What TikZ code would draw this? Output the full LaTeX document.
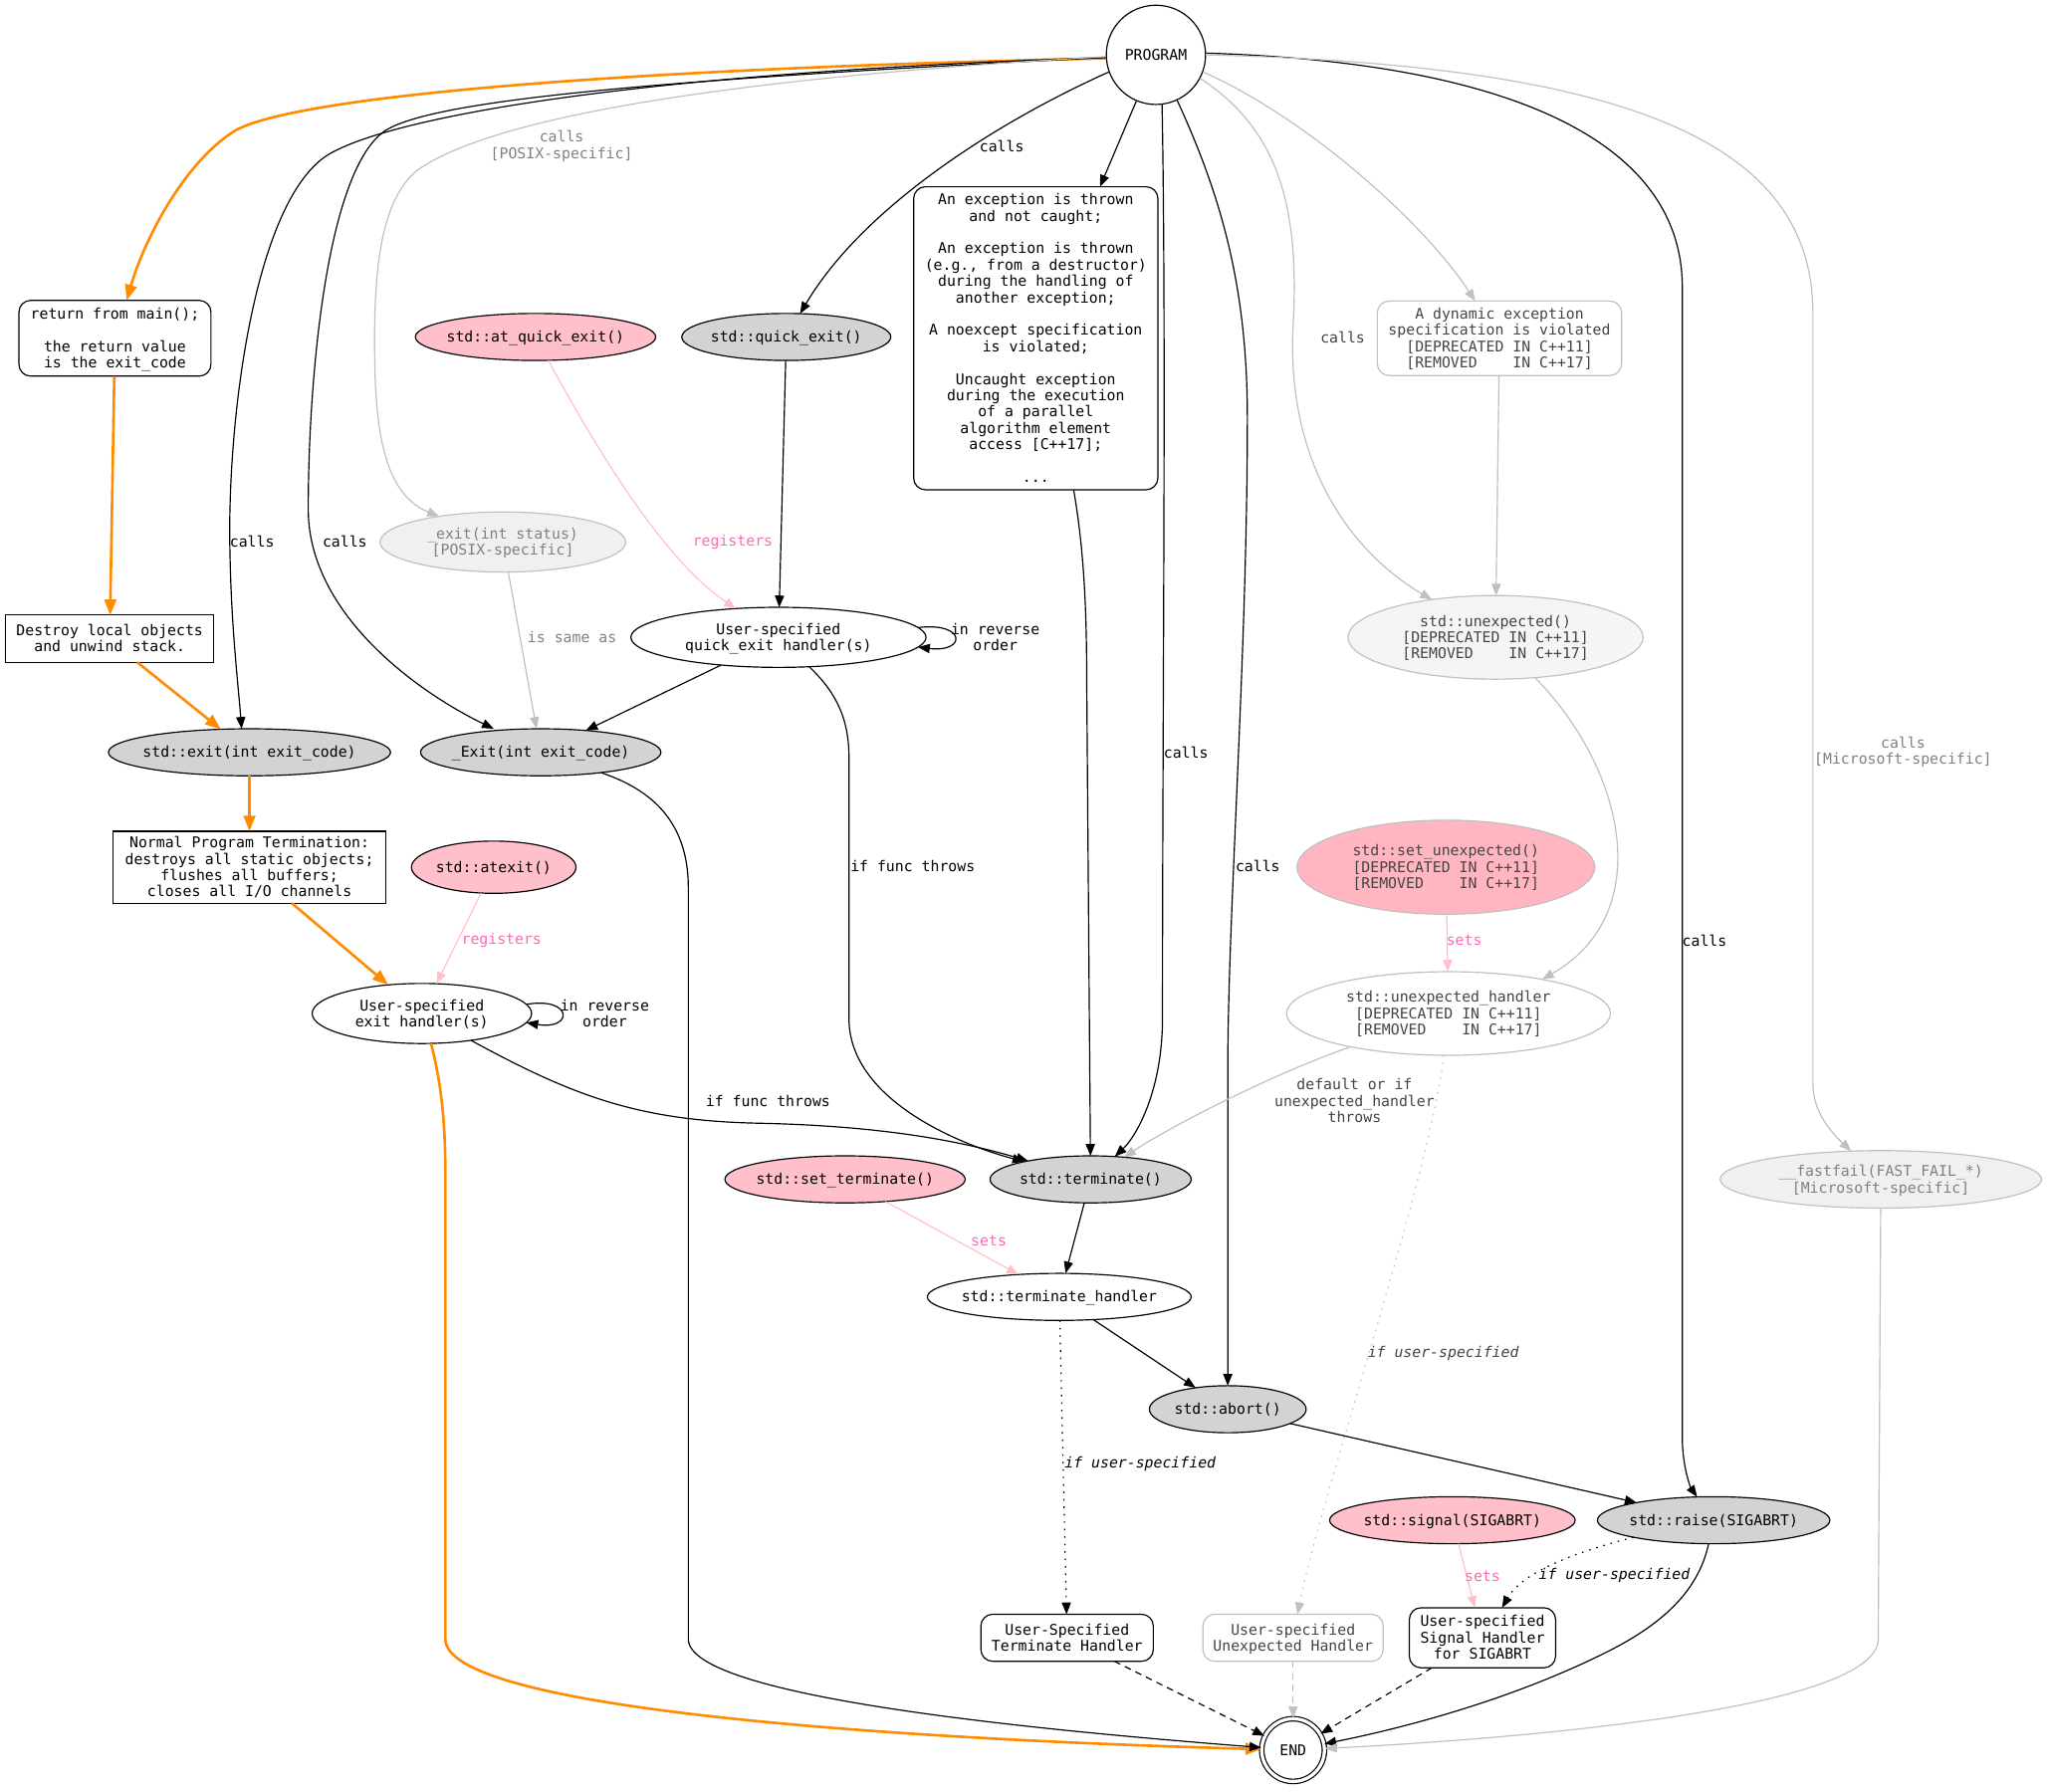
\documentclass[tikz,border=0pt]{standalone}
\usepackage{fontspec}
\newfontfamily\dvs{DejaVu Sans Mono}
\usetikzlibrary{shapes.geometric,arrows.meta,calc}
\definecolor{pinkf}{HTML}{FFC0CB}
\definecolor{lpink}{HTML}{FFB6C1}
\definecolor{grayf}{HTML}{D3D3D3}
\definecolor{silv}{HTML}{C0C0C0}
\definecolor{hpink}{HTML}{FF69B4}
\definecolor{dorange}{HTML}{FF8C00}
\definecolor{dtext}{HTML}{444444}
\definecolor{mtext}{HTML}{808080}
\definecolor{lfill}{HTML}{F0F0F0}
\definecolor{wsmoke}{HTML}{F5F5F5}
\newcommand{\zb}[1]{\makebox[0pt]{\raisebox{-1.5pt}[\height][\depth]{\begin{tabular}{@{}c@{}}#1\end{tabular}}}}
\begin{document}
\begin{tikzpicture}[x=1pt,y=-1pt,font={\dvs\fontsize{11.3}{12.5}\selectfont},
  ell/.style={ellipse, draw, line width=0.9pt, inner sep=0pt, outer sep=0pt},
  box/.style={rectangle, draw, line width=0.9pt, inner sep=0pt, outer sep=0pt},
  rbox/.style={box, rounded corners=9pt},
  pinkn/.style={ell, fill=pinkf},
  grayn/.style={ell, fill=grayf},
  ghost/.style={draw=silv, text=dtext},
  e/.style={line width=0.9pt, -{Triangle[length=9pt,width=7pt]}},
  eo/.style={line width=2pt, draw=dorange, -{Triangle[length=12pt,width=9pt]}},
  eg/.style={e, draw=silv},
  ep/.style={e, draw=pinkf},
  dsh/.style={dash pattern=on 5pt off 4pt},
  dtt/.style={dash pattern=on 1.2pt off 4.5pt},
  lab/.style={inner sep=0pt},
  plab/.style={lab, text=hpink},
  glab/.style={lab, text=mtext},
  dlab/.style={lab, text=dtext}]
\fill[white] (0,0) rectangle (1568,1372);
\useasboundingbox (0,0) rectangle (1568,1372);

% nodes
\node[circle, draw, line width=0.9pt, minimum size=76pt, inner sep=0pt] (prog) at (885,42) {\zb{PROGRAM}};
\node[rbox, minimum width=147pt, minimum height=58pt] (ret) at (88,259) {\zb{return from main();\\ \\ the return value\\ is the exit\_code}};
\node[pinkn, minimum width=184pt, minimum height=36pt] (aqe) at (410,258) {\zb{std::at\_quick\_exit()}};
\node[grayn, minimum width=160pt, minimum height=36pt] (qexit) at (602,258) {\zb{std::quick\_exit()}};
\node[rbox, minimum width=187pt, minimum height=232pt] (exc) at (793,259) {\zb{An exception is thrown\\ and not caught;\\ \\ An exception is thrown\\ (e.g., from a destructor)\\ during the handling of\\ another exception;\\ \\ A noexcept specification\\ is violated;\\ \\ Uncaught exception\\ during the execution\\ of a parallel\\ algorithm element\\ access {[}C++17];\\ \\ ...}};
\node[rbox, ghost, minimum width=187pt, minimum height=57pt] (dyn) at (1148,259) {\zb{A dynamic exception\\ specification is violated\\ {[}DEPRECATED IN C++11]\\ {[}REMOVED\ \ \ \ IN C++17]}};
\node[ell, draw=silv, fill=lfill, text=mtext, minimum width=188pt, minimum height=46pt] (xexitp) at (385,415) {\zb{\_exit(int status)\\ {[}POSIX-specific]}};
\node[ell, minimum width=226pt, minimum height=46pt] (hquick) at (596,488) {\zb{User-specified\\ quick\_exit handler(s)}};
\node[box, minimum width=159pt, minimum height=36pt] (destroy) at (84,489) {\zb{Destroy local objects\\ and unwind stack.}};
\node[ell, draw=silv, fill=wsmoke, text=dtext, minimum width=226pt, minimum height=64pt] (unexp) at (1145,488) {\zb{std::unexpected()\\ {[}DEPRECATED IN C++11]\\ {[}REMOVED\ \ \ \ IN C++17]}};
\node[grayn, minimum width=216pt, minimum height=36pt] (sexit) at (191,576) {\zb{std::exit(int exit\_code)}};
\node[grayn, minimum width=184pt, minimum height=36pt] (xexit) at (414,576) {\zb{\_Exit(int exit\_code)}};
\node[box, minimum width=209pt, minimum height=55pt] (normal) at (191,664) {\zb{Normal Program Termination:\\ destroys all static objects;\\ flushes all buffers;\\ closes all I/O channels}};
\node[pinkn, minimum width=126pt, minimum height=40pt] (atexit) at (378,664) {\zb{std::atexit()}};
\node[ell, draw=silv, fill=lpink, text=dtext, minimum width=228pt, minimum height=72pt] (setunexp) at (1107,664) {\zb{std::set\_unexpected()\\ {[}DEPRECATED IN C++11]\\ {[}REMOVED\ \ \ \ IN C++17]}};
\node[ell, minimum width=168pt, minimum height=46pt] (hexit) at (323,776) {\zb{User-specified\\ exit handler(s)}};
\node[ell, draw=silv, text=dtext, minimum width=248pt, minimum height=64pt] (uhandler) at (1109,776) {\zb{std::unexpected\_handler\\ {[}DEPRECATED IN C++11]\\ {[}REMOVED\ \ \ \ IN C++17]}};
\node[pinkn, minimum width=184pt, minimum height=36pt] (setterm) at (647,903) {\zb{std::set\_terminate()}};
\node[grayn, minimum width=154pt, minimum height=36pt] (term) at (835,903) {\zb{std::terminate()}};
\node[ell, draw=silv, fill=lfill, text=mtext, minimum width=246pt, minimum height=44pt] (ffail) at (1440,903) {\zb{\_\_fastfail(FAST\_FAIL\_*)\\ {[}Microsoft-specific]}};
\node[ell, minimum width=202pt, minimum height=36pt] (thandler) at (811,993) {\zb{std::terminate\_handler}};
\node[grayn, minimum width=120pt, minimum height=36pt] (abort) at (940,1079) {\zb{std::abort()}};
\node[pinkn, minimum width=188pt, minimum height=36pt] (signal) at (1112,1164) {\zb{std::signal(SIGABRT)}};
\node[grayn, minimum width=178pt, minimum height=36pt] (raise) at (1312,1164) {\zb{std::raise(SIGABRT)}};
\node[rbox, minimum width=132pt, minimum height=36pt] (uth) at (817,1254) {\zb{User-Specified\\ Terminate Handler}};
\node[rbox, ghost, minimum width=138pt, minimum height=36pt] (uuh) at (990,1254) {\zb{User-specified\\ Unexpected Handler}};
\node[rbox, minimum width=112pt, minimum height=46pt] (ush) at (1135,1254) {\zb{User-specified\\ Signal Handler\\ for SIGABRT}};
\node[circle, draw, double, double distance=2.5pt, line width=0.9pt, minimum size=48pt, inner sep=0pt] (end) at (990,1340) {\zb{END}};

% orange path
\draw[eo] (prog.184) .. controls (500,52) and (230,72) .. (180,100) .. controls (140,125) and (110,185) .. ($(ret.north)+(9,0)$);
\draw[eo] (ret) -- (destroy);
\draw[eo] ($(destroy.south)+(21,0)$) -- (sexit);
\draw[eo] (sexit) -- (normal);
\draw[eo] (normal) -- (hexit);
\draw[eo] ($(hexit.south)+(7,0)$) .. controls (338,830) and (341,860) .. (341,900) -- (341,1255) .. controls (341,1310) and (700,1332) .. (end);

% from PROGRAM, left side
\draw[e] (prog.183) .. controls (480,56) and (300,90) .. (252,118) .. controls (195,152) and (174,320) .. (176,420) .. controls (177,480) and (182,520) .. ($(sexit.north)+(-6,0)$);
\node[lab] (c1) at (193,415) {calls};
\draw[e] (prog.183) .. controls (480,62) and (330,78) .. (295,100) .. controls (250,130) and (236,290) .. (236,390) .. controls (236,470) and (320,530) .. ($(xexit.north)+(-36,0)$);
\node[lab] (c2) at (264,415) {calls};
\draw[eg] (prog.182) .. controls (520,62) and (370,95) .. (320,130) .. controls (288,155) and (286,220) .. (287,280) .. controls (288,340) and (298,380) .. (xexitp);
\node[glab] (c3) at (430,111) {\zb{calls\\ {[}POSIX-specific]}};
\draw[e] (prog.200) .. controls (760,95) and (660,160) .. (qexit);
\node[lab] (c4) at (767,112) {calls};
\draw[e] (prog) -- (exc);
\draw[e] (prog.-83) .. controls (893,250) and (890,550) .. (890,780) .. controls (890,835) and (870,870) .. (term);
\node[lab] (c5) at (908,576) {calls};
\draw[e] (prog.-65) .. controls (935,150) and (955,220) .. (955,320) .. controls (955,500) and (940,700) .. (940,820) -- (abort);
\node[lab] (c6) at (963,663) {calls};
\draw[eg] (prog.-20) .. controls (1000,90) and (1090,170) .. (dyn);
\draw[eg] (prog.-28) .. controls (980,100) and (995,160) .. (990,250) .. controls (985,350) and (1030,420) .. (unexp);
\node[dlab] (c7) at (1028,258) {calls};
\draw[e] (prog.2) .. controls (1160,48) and (1288,110) .. (1288,220) -- (1288,1100) .. controls (1288,1125) and (1295,1140) .. (raise);
\node[lab] (c8) at (1305,720) {calls};
\draw[eg] (prog.0) .. controls (1250,50) and (1388,110) .. (1388,240) -- (1388,830) .. controls (1388,850) and (1400,865) .. (ffail);
\node[glab] (c9) at (1457,575) {\zb{calls\\ {[}Microsoft-specific]}};

% middle
\draw[e] ($(exc.south)+(29,0)$) .. controls (828,410) and (832,450) .. (832,520) -- (term);
\draw[ep] (aqe) .. controls (460,350) and (510,430) .. (hquick);
\node[plab] (r1) at (561,415) {registers};
\draw[e] (qexit) -- (hquick);
\draw[e] (hquick.4) .. controls (740,476) and (740,500) .. (hquick.-4);
\node[lab] (rv1) at (762,488) {\zb{in reverse\\ order}};
\draw[e] (hquick) -- (xexit);
\draw[e] (hquick) .. controls (640,530) and (650,550) .. (650,580) -- (650,780) .. controls (650,840) and (730,875) .. (term);
\node[lab, anchor=west] (f1) at (651,663) {if func throws};
\draw[eg] (xexitp) -- (xexit);
\node[glab] (same) at (438,488) {is same as};
\draw[e] (xexit) .. controls (500,605) and (527,630) .. (527,680) -- (527,1255) .. controls (527,1300) and (800,1325) .. (end);
\draw[ep] (atexit) -- (hexit);
\node[plab] (r2) at (384,720) {registers};
\draw[e] (hexit.5) .. controls (439,763) and (439,789) .. (hexit.-5);
\node[lab] (rv2) at (463,776) {\zb{in reverse\\ order}};
\draw[e] (hexit) .. controls (440,840) and (490,858) .. (580,860) .. controls (680,862) and (740,875) .. (term);
\node[lab] (f2) at (588,843) {if func throws};

% right
\draw[eg] (dyn) -- (unexp);
\draw[eg] (unexp) .. controls (1245,590) and (1268,700) .. (uhandler.20);
\draw[ep] (setunexp) -- (uhandler);
\node[plab] (s1) at (1121,720) {sets};
\draw[eg] (uhandler) .. controls (980,820) and (900,860) .. (term);
\node[dlab] (dflt) at (1037,843) {\zb{default or if\\ unexpected\_handler\\ throws}};
\draw[eg, dtt] (uhandler) .. controls (1095,900) and (1010,1150) .. (uuh);
\node[dlab] (u1) at (1105,1036) {\itshape if user-specified};

% lower
\draw[ep] (setterm) -- (thandler);
\node[plab] (s2) at (757,950) {sets};
\draw[e] (term) -- (thandler);
\draw[e] (thandler) -- (abort);
\draw[e, dtt] (thandler) -- (uth);
\node[lab] (u2) at (873,1121) {\itshape if user-specified};
\draw[e] (abort) -- (raise);
\draw[ep] (signal) -- (ush);
\node[plab] (s3) at (1135,1207) {sets};
\draw[e, dtt] (raise.192) .. controls (1200,1190) and (1165,1205) .. ($(ush.north)+(15,0)$);
\node[lab] (u3) at (1236,1206) {\itshape if user-specified};
\draw[e] (raise) .. controls (1300,1220) and (1270,1245) .. (1230,1265) .. controls (1160,1300) and (1080,1322) .. (end);
\draw[e, dsh] (uth) -- (end);
\draw[eg, dsh] (uuh) -- (end);
\draw[e, dsh] (ush) -- (end);
\draw[eg] (ffail) -- (1438,1255) .. controls (1438,1310) and (1150,1332) .. (end);
\end{tikzpicture}
\end{document}
